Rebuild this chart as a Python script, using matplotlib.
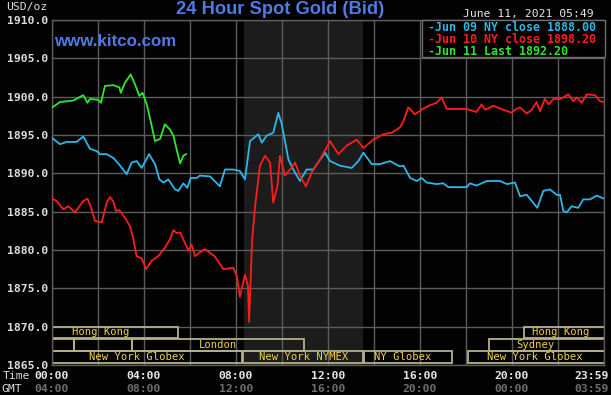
import matplotlib
matplotlib.use("Agg")
import matplotlib.pyplot as plt
from matplotlib.patches import Rectangle
from matplotlib.transforms import blended_transform_factory

# ---------------- data ----------------
jun11_hours = [0.01, 0.35, 0.93, 1.36, 1.54, 1.65, 2.01, 2.13, 2.30, 2.67, 2.93, 2.99, 3.17, 3.42,
               3.61, 3.80, 3.94, 4.12, 4.29, 4.48, 4.70, 4.91, 5.13, 5.28, 5.42, 5.57, 5.71, 5.83]
jun11_values = [1898.6, 1899.3, 1899.5, 1900.2, 1899.2, 1899.7, 1899.6, 1899.2, 1901.4, 1901.5,
                1901.2, 1900.5, 1901.8, 1902.9, 1901.6, 1900.1, 1900.5, 1899.0, 1896.8, 1894.2,
                1894.5, 1896.4, 1895.7, 1894.9, 1893.1, 1891.3, 1892.3, 1892.5]

jun09_hours = [0.01, 0.35, 0.64, 1.07, 1.36, 1.65, 1.94, 2.09, 2.38, 2.67, 2.96, 3.25, 3.46, 3.68,
               3.90, 4.22, 4.48, 4.67, 4.84, 5.06, 5.35, 5.49, 5.71, 5.88, 6.03, 6.29, 6.43,
               6.87, 7.30, 7.52, 7.88, 8.17, 8.39, 8.61, 8.97, 9.12, 9.33, 9.62, 9.84, 9.99,
               10.28, 10.49, 10.78, 11.07, 11.36, 11.87, 12.09, 12.52, 13.03, 13.32, 13.54,
               13.90, 14.26, 14.70, 15.13, 15.28, 15.57, 15.86, 16.07, 16.29, 16.72, 17.01,
               17.23, 18.03, 18.17, 18.46, 18.90, 19.48, 19.77, 20.13, 20.35, 20.64, 20.86,
               21.10, 21.36, 21.65, 21.94, 22.09, 22.23, 22.38, 22.59, 22.88, 23.10, 23.39,
               23.68, 24.0]
jun09_values = [1894.6, 1893.8, 1894.1, 1894.1, 1894.8, 1893.2, 1892.9, 1892.5, 1892.5, 1892.0,
                1891.0, 1889.9, 1891.4, 1891.6, 1890.7, 1892.5, 1891.2, 1889.2, 1888.8, 1889.2,
                1887.9, 1887.7, 1888.7, 1888.1, 1889.4, 1889.4, 1889.7,
                1889.6, 1888.3, 1890.5, 1890.5, 1890.3, 1889.2, 1894.2, 1895.1, 1894.0, 1894.9,
                1895.3, 1897.9, 1896.4, 1891.8, 1890.5, 1889.0, 1890.5, 1890.5, 1892.7, 1891.6,
                1891.0, 1890.7, 1891.6, 1892.7, 1891.2, 1891.2, 1891.6, 1890.9, 1891.0, 1889.4,
                1889.0, 1889.4, 1888.8, 1888.6, 1888.7, 1888.2, 1888.2, 1888.7, 1888.4, 1889.0,
                1889.0, 1888.6, 1888.8, 1887.0, 1887.2, 1886.4, 1885.5, 1887.7, 1887.9, 1887.2,
                1887.2, 1885.1, 1884.9, 1885.7, 1885.5, 1886.6, 1886.6, 1887.1, 1886.7]

jun10_hours = [0.01, 0.20, 0.49, 0.71, 1.00, 1.36, 1.54, 1.68, 1.87, 2.16, 2.38, 2.52, 2.67, 2.78,
               2.93, 3.17, 3.39, 3.54, 3.68, 3.90, 4.09, 4.33, 4.62, 4.91, 5.13, 5.28, 5.42,
               5.57, 5.71, 5.93, 6.07, 6.22, 6.43, 6.65, 7.07, 7.45, 7.88, 8.03, 8.17, 8.39,
               8.52, 8.57, 8.70, 8.83, 9.04, 9.26, 9.48, 9.62, 9.80, 9.91, 10.13, 10.35, 10.57,
               10.78, 11.04, 11.29, 11.65, 12.09, 12.45, 12.81, 13.25, 13.54, 13.97, 14.41,
               14.77, 15.13, 15.28, 15.49, 15.78, 16.07, 16.36, 16.72, 16.94, 17.16, 18.03,
               18.46, 18.68, 18.83, 19.19, 19.62, 19.99, 20.13, 20.35, 20.64, 20.86, 21.07,
               21.22, 21.43, 21.59, 21.80, 22.09, 22.23, 22.45, 22.67, 22.81, 23.03, 23.25,
               23.61, 23.83, 24.0]
jun10_values = [1886.7, 1886.4, 1885.3, 1885.7, 1884.9, 1886.4, 1886.7, 1885.7, 1883.8, 1883.6,
                1886.2, 1886.9, 1886.3, 1885.1, 1885.2, 1884.2, 1883.1, 1881.4, 1879.2, 1878.9,
                1877.5, 1878.6, 1879.2, 1880.3, 1881.4, 1882.6, 1882.2, 1882.3, 1881.4, 1879.9,
                1880.7, 1879.2, 1879.7, 1880.1, 1879.2, 1877.5, 1877.7, 1876.6, 1873.9, 1876.8,
                1875.3, 1870.6, 1881.3, 1885.7, 1891.0, 1892.3, 1891.4, 1886.2, 1888.3, 1892.3,
                1889.7, 1890.5, 1891.4, 1889.7, 1888.3, 1890.1, 1891.8, 1894.2, 1892.5, 1893.6,
                1894.4, 1893.3, 1894.4, 1895.1, 1895.3, 1896.0, 1896.8, 1898.6, 1897.7, 1898.3,
                1898.8, 1899.2, 1899.9, 1898.4, 1898.4, 1898.0, 1899.0, 1898.3, 1898.8, 1898.3,
                1897.9, 1898.3, 1898.6, 1897.8, 1898.3, 1899.3, 1898.1, 1899.7, 1899.0, 1899.7,
                1899.7, 1899.9, 1900.3, 1899.4, 1899.9, 1899.2, 1900.3, 1900.2, 1899.4, 1899.3]

legend_labels = ["-Jun 09 NY close 1888.00", "-Jun 10 NY close 1898.20", "-Jun 11 Last 1892.20"]
y_ticks = [1865, 1870, 1875, 1880, 1885, 1890, 1895, 1900, 1905, 1910]
time_ticks = [0, 4, 8, 12, 16, 20, 23.48]
time_labels = ["00:00", "04:00", "08:00", "12:00", "16:00", "20:00", "23:59"]
gmt_labels = ["04:00", "08:00", "12:00", "16:00", "20:00", "00:00", "03:59"]

# sessions
sessions_row = [0, 0, 1, 1, 1, 1, 2, 2, 2, 2]
sessions_start = [0.0, 20.52, 0.0, 0.96, 3.48, 19.0, 0.0, 8.30, 13.57, 18.09]
sessions_end = [5.48, 24.3, 0.96, 3.48, 10.96, 24.3, 8.26, 13.52, 17.39, 24.3]
sessions_label = ["Hong Kong", "Hong Kong", "", "", "London", "Sydney",
                  "New York Globex", "New York NYMEX", "NY Globex", "New York Globex"]
sessions_label_h = [2.13, 22.1, 0, 0, 7.2, 21.0, 3.7, 10.96, 15.26, 21.0]
row_bottom = [1868.5, 1866.85, 1865.2]
row_top = [1870.0, 1868.45, 1866.8]

# ---------------- styling ----------------
W, H = 611, 395
BG = "#020202"
GRID = "#5c5c5c"
BLUE_T = "#4f7be6"
C_BLUE = "#2ab8ea"
C_RED = "#ff1c1c"
C_GREEN = "#2ee82e"
MONO = "DejaVu Sans Mono"

fig = plt.figure(figsize=(W / 100, H / 100), dpi=100, facecolor=BG)
ax = fig.add_axes([52 / W, (H - 365) / H, 552 / W, 345 / H], facecolor=BG)
ax.set_xlim(0, 24)
ax.set_ylim(1865, 1910)

# NYMEX shaded region
ax.axvspan(8.333, 13.5, color="#1c1c1c", zorder=0, lw=0)

ax.set_xticks(range(0, 25, 2))
ax.set_yticks(y_ticks)
ax.grid(True, color=GRID, lw=1.0, zorder=1)
ax.set_axisbelow(True)
for s in ax.spines.values():
    s.set_color(GRID)
    s.set_linewidth(1.0)
ax.tick_params(length=0, labelbottom=False)
ax.set_yticklabels([f"{v:.1f}" for v in y_ticks], family=MONO, fontsize=8.2,
                   color="#dcdcdc", fontweight="bold")
ax.tick_params(axis="y", pad=3)

# session bars
for r, s, e, lab, lh in zip(sessions_row, sessions_start, sessions_end,
                             sessions_label, sessions_label_h):
    rect = Rectangle((s, row_bottom[r]), e - s, row_top[r] - row_bottom[r],
                     facecolor="none", edgecolor="#b4b088", lw=1.3, zorder=2,
                     clip_on=True)
    ax.add_patch(rect)
    if lab:
        ax.text(lh, (row_bottom[r] + row_top[r]) / 2, lab, family=MONO, fontsize=7.6,
                color="#f2d048", ha="center", va="center", zorder=3)

# lines
ax.plot(jun09_hours, jun09_values, color=C_BLUE, lw=1.3, zorder=4)
ax.plot(jun10_hours, jun10_values, color=C_RED, lw=1.3, zorder=4)
ax.plot(jun11_hours, jun11_values, color=C_GREEN, lw=1.3, zorder=5)

# legend box
leg = Rectangle((422 / W, 1 - 57 / H), 183 / W, 37 / H, transform=fig.transFigure,
                facecolor="#000000", edgecolor="#707070", lw=1.0, zorder=10)
fig.patches.append(leg)
for i, (lab, col) in enumerate(zip(legend_labels, [C_BLUE, C_RED, C_GREEN])):
    fig.text(428 / W, 1 - (27.5 + 12 * i) / H, lab, family=MONO, fontsize=8.4,
             fontweight="bold", color=col, ha="left", va="center", zorder=11)

# titles
fig.text(280 / W, 1 - 9 / H, "24 Hour Spot Gold (Bid)", family="Liberation Sans",
         fontweight="bold", fontsize=13.2, color=BLUE_T, ha="center", va="center")
fig.text(54 / W, 1 - 42 / H, "www.kitco.com", family="Liberation Sans",
         fontweight="bold", fontsize=12.2, color=BLUE_T, ha="left", va="center")
fig.text(6 / W, 1 - 7 / H, "USD/oz", family=MONO, fontsize=8.2, color="#dcdcdc",
         ha="left", va="center")
fig.text(594 / W, 1 - 13.5 / H, "June 11, 2021 05:49", family=MONO, fontsize=8.2,
         color="#e6e6e6", ha="right", va="center")

# time axis labels
tr = blended_transform_factory(ax.transData, fig.transFigure)
fig.text(30 / W, 1 - 376 / H, "Time", family=MONO, fontsize=8.2, color="#dcdcdc",
         ha="right", va="center")
fig.text(1 / W, 1 - 389 / H, "GMT", family=MONO, fontsize=8.2, color="#dcdcdc",
         ha="left", va="center")
for t, l1, l2 in zip(time_ticks, time_labels, gmt_labels):
    ax.text(t, 1 - 376 / H, l1, transform=tr, family=MONO, fontsize=8.2,
            fontweight="bold", color="#e8e8e8", ha="center", va="center", clip_on=False)
    ax.text(t, 1 - 389 / H, l2, transform=tr, family=MONO, fontsize=8.2,
            fontweight="bold", color="#6e6e6e", ha="center", va="center", clip_on=False)

fig.savefig("out.png", dpi=100, facecolor=BG)
